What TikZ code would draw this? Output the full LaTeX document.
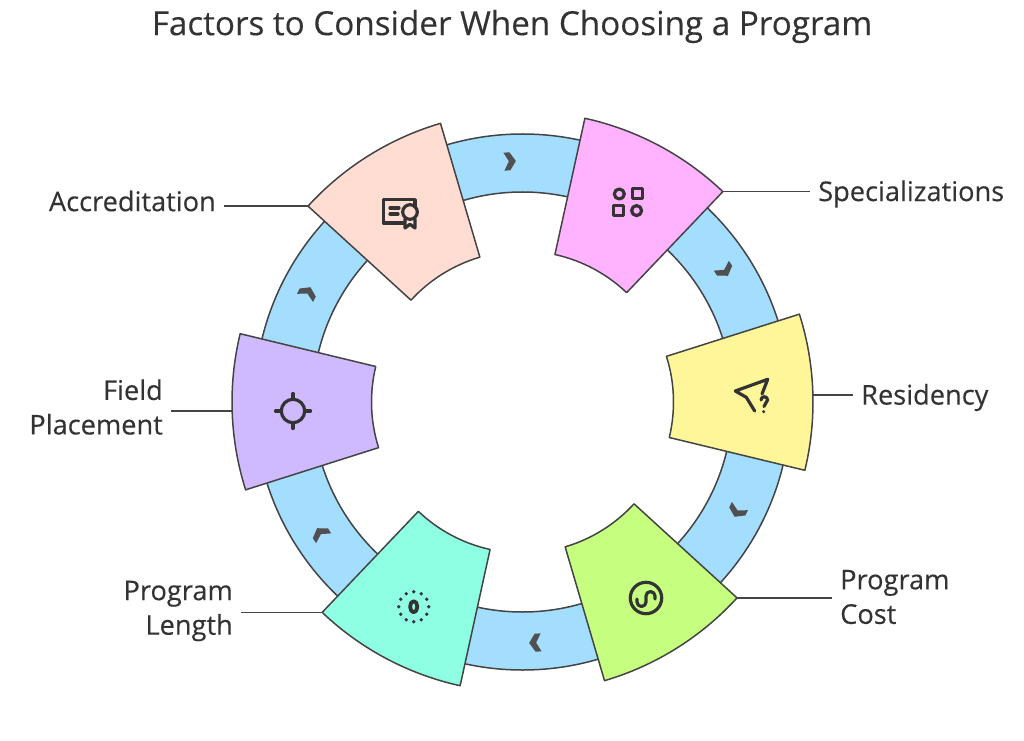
\documentclass[tikz,border=0pt]{standalone}
\usepackage{fontspec}
\setmainfont{Open Sans}[BoldFont=Open Sans,BoldFeatures={FakeBold=0.25}]
\definecolor{ringblue}{HTML}{A3DEFF}
\definecolor{darkline}{HTML}{444444}
\definecolor{chevgrey}{HTML}{505050}
\definecolor{textgrey}{HTML}{333333}
\definecolor{peach}{HTML}{FFDDD3}
\definecolor{pinkish}{HTML}{FFB3FF}
\definecolor{lemon}{HTML}{FFF699}
\definecolor{lime}{HTML}{C6FF80}
\definecolor{aqua}{HTML}{8FFFE3}
\definecolor{lilac}{HTML}{CFBAFF}
\tikzset{
  outline/.style={draw=darkline,line width=1.5pt,line join=round},
  leader/.style={draw=darkline,line width=1.3pt},
  label/.style={text=textgrey,font=\fontsize{27.2}{34.5}\selectfont\bfseries,inner sep=8pt},
  iconline/.style={draw=textgrey,line width=3.2pt,line cap=round,line join=round},
}

\begin{document}
\begin{tikzpicture}[x=1pt,y=1pt]
  \useasboundingbox (0,0) rectangle (1024,740);
  \node [text=textgrey,font=\fontsize{33.2}{38}\selectfont\bfseries] (title) at (512,713.5) {Factors to Consider When Choosing a Program};

  \begin{scope}[shift={(522.5,338)}]
    \draw [outline,fill=ringblue,even odd rule] (0,0) circle (268) (0,0) circle (210);
    \foreach \ang in {93,33,-27,-87,-147,153}
      \fill [chevgrey,shift={(\ang:241)},rotate=\ang-90] (-6,9) -- (0,9) -- (6,0) -- (0,-9) -- (-6,-9) -- (-1,0) -- cycle;
    \foreach \ang/\col in {122/peach,62/pinkish,2/lemon,-58/lime,-118/aqua,182/lilac}
      \draw [outline,fill=\col] (\ang-15.6:290.5) arc (\ang-15.6:\ang+15.6:290.5) -- (\ang+15.6:151) arc (\ang+15.6:\ang-15.6:151) -- cycle;
    \coordinate (accpoint) at (137.6:290.5);
    \coordinate (specpoint) at (46.4:290.5);
    \coordinate (respoint) at (1.4:290.5);
    \coordinate (costpoint) at (-42.4:290.5);
    \coordinate (lengthpoint) at (-133.6:290.5);
    \coordinate (fieldpoint) at (181.8:290.5);
  \end{scope}

  \node [label,anchor=east] (acclabel) at (224,539) {Accreditation};
  \node [label,anchor=west] (speclabel) at (810,546) {Specializations};
  \node [label,anchor=west] (reslabel) at (853,342.5) {Residency};
  \node [label,anchor=west,align=left] (costlabel) at (832,143) {Program\\Cost};
  \node [label,anchor=east,align=right] (lengthlabel) at (241,129) {Program\\Length};
  \node [label,anchor=east,align=right] (fieldlabel) at (171,333) {Field\\Placement};

  \draw [leader] (accpoint) -- (accpoint -| acclabel.east);
  \draw [leader] (specpoint) -- (specpoint -| speclabel.west);
  \draw [leader] (respoint) -- (respoint -| reslabel.west);
  \draw [leader] (costpoint) -- (costpoint -| costlabel.west);
  \draw [leader] (lengthpoint) -- (lengthpoint -| lengthlabel.east);
  \draw [leader] (fieldpoint) -- (fieldpoint -| fieldlabel.east);

  \begin{scope}[shift={(400,528)},iconline]
    \draw (15,5) -- (15,12.3) -- (-16.7,12.3) -- (-16.7,-11) -- (3,-11);
    \draw (-10,4) -- (-1,4);
    \draw (-10,-2) -- (-2,-2);
    \draw (10,0) circle (7.3);
    \draw (5,-7) -- (5,-16) -- (10,-12.3) -- (15,-16) -- (15,-7);
  \end{scope}

  \begin{scope}[shift={(628.3,537.7)},iconline]
    \draw (-9,8.3) circle (5);
    \draw (4,4) rectangle (14,14);
    \draw (-14.5,-13.3) rectangle (-4.5,-3.3);
    \draw (8.3,-8.3) circle (5);
  \end{scope}

  \begin{scope}[shift={(752,345)},iconline]
    \draw (2.7,-16) -- (-5.7,-2.3) -- (-16.7,4) -- (15.7,15.7) -- (10,1);
    \draw (9,-5) arc (180:-60:3.3) -- (12,-11.5);
    \fill [textgrey] (11.7,-16.7) circle (1.7);
  \end{scope}

  \begin{scope}[shift={(646,142)},iconline]
    \draw (0,0) circle (15.7);
    \draw (9,-1) -- (9,2) arc (0:180:4.5) -- (0,-4) arc (0:-180:4.5) -- (-9,-1);
  \end{scope}

  \begin{scope}[shift={(413.7,133.3)},iconline]
    \foreach \ang in {0,30,...,330}
      \fill [textgrey] (\ang:15) circle (1.9);
    \draw [line width=3.8pt] (0,0) ellipse (3.6 and 5.6);
  \end{scope}

  \begin{scope}[shift={(293,329)},iconline]
    \draw (0,0) circle (11.7);
    \draw (11.7,0) -- (17.5,0) (-11.7,0) -- (-17.5,0) (0,11.7) -- (0,17.5) (0,-11.7) -- (0,-17.5);
  \end{scope}
\end{tikzpicture}
\end{document}
